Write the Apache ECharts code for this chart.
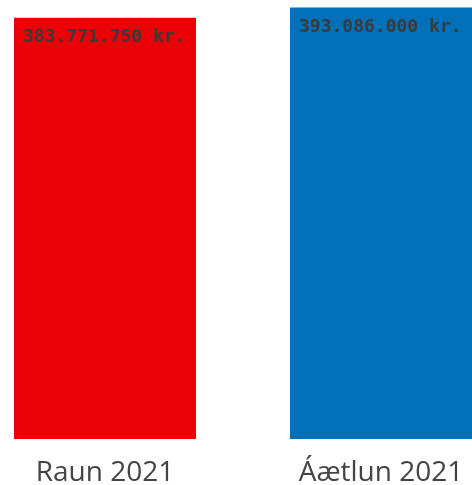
<!DOCTYPE html>
<html><head><meta charset="utf-8">
<script src="https://cdn.jsdelivr.net/npm/echarts@6/dist/echarts.min.js"></script>
<style>html,body{margin:0;padding:0;background:#fff}#c{width:472px;height:485px}</style>
</head><body><div id="c"></div>
<script>
const categories = ["Raun 2021", "Áætlun 2021"];
const values = [383771750, 393086000];
const colors = ["#EA0007", "#0070B9"];

function fmt(v){ return String(v).replace(/\B(?=(\d{3})+(?!\d))/g, ".") + " kr."; }

const chart = echarts.init(document.getElementById('c'), null, {renderer:'canvas'});
chart.setOption({
  animation:false,
  grid:{left:-33, right:-47, top:0, bottom:46, containLabel:false, outerBoundsMode:'none'},
  xAxis:{type:'category', data:categories,
    axisLine:{show:false}, axisTick:{show:false},
    axisLabel:{color:'#444', fontFamily:'Open Sans', fontSize:28, margin:20}},
  yAxis:{type:'value', min:0, max:400000000, show:false, splitLine:{show:false}},
  series:[{type:'bar', barWidth:182,
    data: values.map((v,i)=>({value:v, itemStyle:{color:colors[i]}})),
    label:{show:true, position:[9,11], formatter:p=>fmt(p.value),
      fontFamily:'DejaVu Sans Mono', fontWeight:'bold', fontSize:18, color:'#3a3a3a',
      align:'left', verticalAlign:'top'}
  }]
});
</script></body></html>
